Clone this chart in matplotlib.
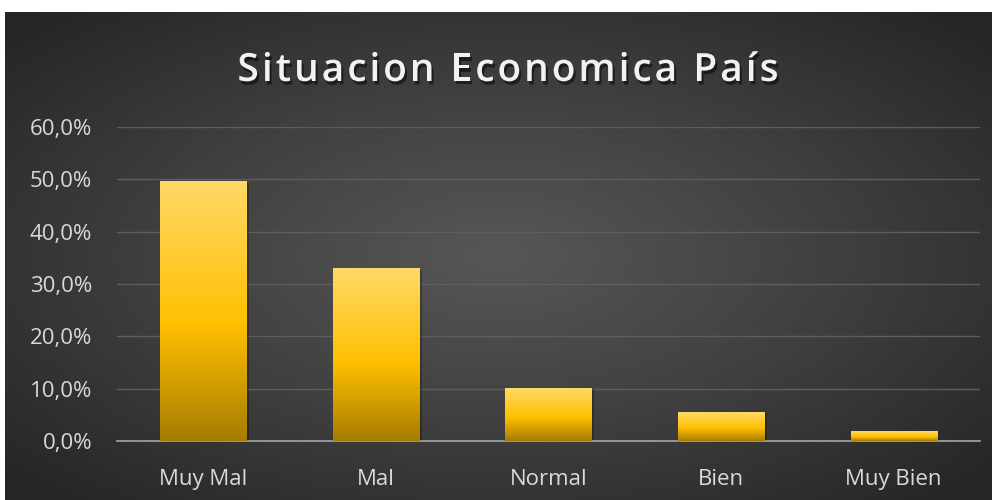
import numpy as np
import matplotlib.pyplot as plt
import matplotlib.patheffects as pe
from matplotlib.colors import LinearSegmentedColormap

categories = ["Muy Mal", "Mal", "Normal", "Bien", "Muy Bien"]
values = [49.5, 32.9, 10.1, 5.5, 1.9]
yticks = [0, 10, 20, 30, 40, 50, 60]
ytick_labels = ["0,0%", "10,0%", "20,0%", "30,0%", "40,0%", "50,0%", "60,0%"]
title = "Situacion Economica País"

plt.rcParams['font.family'] = ['Open Sans', 'DejaVu Sans']

fig = plt.figure(figsize=(9.92, 5.0), dpi=100)
fig.patch.set_facecolor('white')

# dark radial background, lighter in the middle
bg = fig.add_axes([5 / 992, 0, 987 / 992, 488 / 500])
bg.set_axis_off()
gx, gy = np.meshgrid(np.linspace(-1, 1, 400), np.linspace(-1, 1, 200))
r = np.clip(np.sqrt(gx ** 2 + gy ** 2) / 1.35, 0, 1)
bg_cmap = LinearSegmentedColormap.from_list("bg", ["#575757", "#404040", "#262626"])
bg.imshow(r, cmap=bg_cmap, aspect='auto', extent=(0, 1, 0, 1), vmin=0, vmax=1)
bg.set_xlim(0, 1)
bg.set_ylim(0, 1)

ax = fig.add_axes([117 / 992, 59 / 500, 863 / 992, 314 / 500])
ax.patch.set_alpha(0)

x = np.arange(len(categories))
bars = ax.bar(x, values, width=0.5, color='none', edgecolor='none', zorder=3)

bar_cmap = LinearSegmentedColormap.from_list(
    "gold", [(0, "#A67C00"), (0.45, "#FFC000"), (1, "#FFD966")])
grad = np.linspace(0, 1, 256).reshape(-1, 1)
for b in bars:
    x0, w, h = b.get_x(), b.get_width(), b.get_height()
    ax.add_patch(plt.Rectangle((x0 + 0.015, -0.2), w, h, color='black',
                               alpha=0.25, zorder=2, lw=0))
    ax.imshow(grad, cmap=bar_cmap, origin='lower', aspect='auto',
              extent=(x0, x0 + w, 0, h), zorder=3)

ax.set_xlim(-0.5, len(categories) - 0.5)
ax.set_ylim(0, 60)
ax.set_yticks(yticks)
ax.set_yticklabels(ytick_labels)
ax.set_xticks(x)
ax.set_xticklabels(categories)
ax.tick_params(axis='both', length=0, colors='#D9D9D9', labelsize=16)
ax.tick_params(axis='y', pad=18)
ax.tick_params(axis='x', pad=20)
ax.grid(axis='y', color='#5E5E5E', linewidth=1, zorder=0)
ax.set_axisbelow(True)
for s in ['top', 'right', 'left']:
    ax.spines[s].set_visible(False)
ax.spines['bottom'].set_color('#A6A6A6')
ax.spines['bottom'].set_linewidth(1.2)

# title with extra letter spacing, drawn char by char
renderer = fig.canvas.get_renderer()
tkw = dict(fontsize=28, fontweight='semibold', color='#F2F2F2', va='baseline', ha='left',
           path_effects=[pe.withSimplePatchShadow(offset=(1.5, -2.5),
                                                  shadow_rgbFace='black', alpha=0.5)])
spacing = 3.0  # px between letters
W = fig.bbox.width


def prefix_width(s):
    if not s:
        return 0.0
    t = fig.text(0, 0, s.replace(' ', '\u00a0'), **tkw)
    w = t.get_window_extent(renderer).width
    t.remove()
    return w


total = prefix_width(title) + spacing * (len(title) - 1)
start = 508 - total / 2
for i, ch in enumerate(title):
    if ch == ' ':
        continue
    px = start + prefix_width(title[:i]) + spacing * i
    fig.text(px / W, 419 / 500, ch, **tkw)

fig.savefig("out.png", dpi=100)
